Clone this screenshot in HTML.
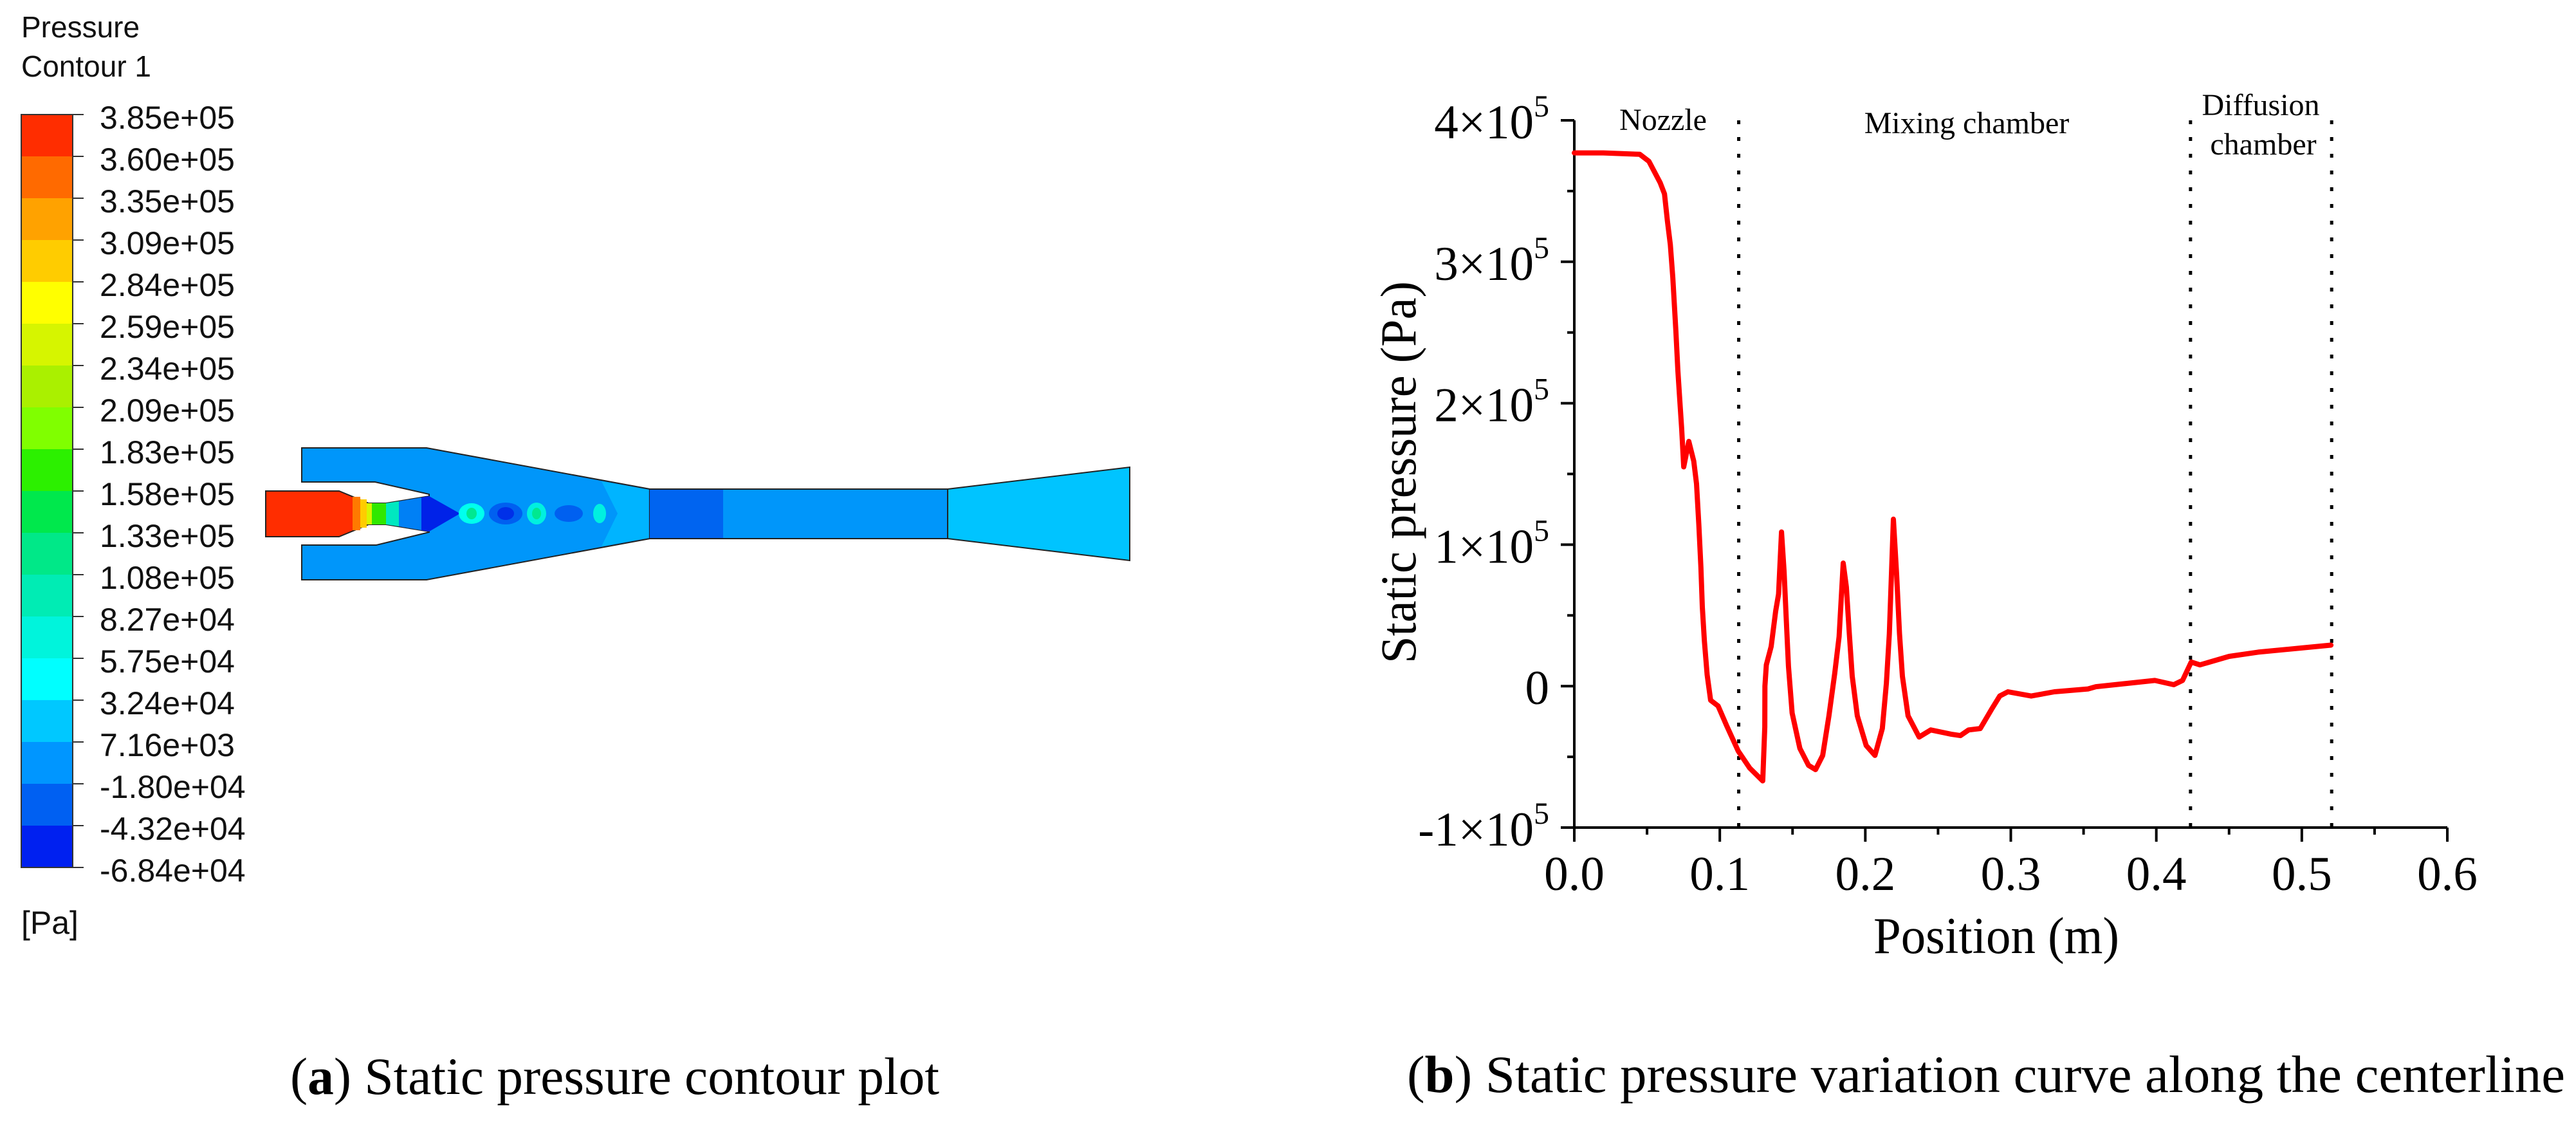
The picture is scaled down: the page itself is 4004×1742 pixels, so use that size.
<!DOCTYPE html>
<html><head><meta charset="utf-8"><style>
html,body{margin:0;padding:0;background:#fff;}
svg{display:block;}
.ar{font-family:"Liberation Sans",Arial,sans-serif;fill:#111;}
.tm{font-family:"Liberation Serif","Times New Roman",serif;fill:#000;}
</style></head><body>
<svg id="root" width="4004" height="1742" viewBox="0 0 4004 1742" xmlns="http://www.w3.org/2000/svg">
<rect width="4004" height="1742" fill="#fff"/>
<g>
<text class="ar" x="33" y="58" font-size="46">Pressure</text>
<text class="ar" x="33" y="119" font-size="46">Contour 1</text>
<g id="cbar"></g>
<text class="ar" x="33" y="1451" font-size="50">[Pa]</text>
<g stroke="#222" stroke-width="2">
<polygon fill="#0096fa" points="469,696 663,696 1010,760 1010,837 663,901 469,901 469,847 585,847 667,827 667,768 583,749 469,749"/>
<rect x="1010" y="760" width="463" height="77" fill="#0096fa"/>
<rect x="1010" y="761" width="114" height="75" fill="#0064f0" stroke="none"/>
<polygon fill="#00c4ff" points="1473,760 1756,726 1756,871 1473,837"/>
<polygon fill="#00b4ff" stroke="none" points="935,748 1008,761 1008,836 935,849 960,798"/>
<polygon fill="#ff2d00" points="413,763 527,763 573,782 600,782 667,771 667,826 600,815 573,815 527,834 413,834"/>
</g>
<g stroke="none">
<rect x="548" y="772" width="12" height="52" fill="#ff7a00"/>
<rect x="560" y="776" width="10" height="44" fill="#ffcc00"/>
<rect x="570" y="782" width="8" height="33" fill="#d8f500"/>
<rect x="578" y="782" width="22" height="33" fill="#30e800"/>
<polygon points="600,782 620,779 620,818 600,815" fill="#00e8c0"/>
<polygon points="620,779 667,771 667,826 620,818" fill="#0080f5"/>
<polygon points="655,773 667,771 715,798 667,826 655,824" fill="#0022e8"/>
<ellipse cx="733" cy="798" rx="20" ry="16" fill="#00ffee"/>
<ellipse cx="733" cy="798" rx="8" ry="9" fill="#00e890"/>
<ellipse cx="786" cy="798" rx="26" ry="17" fill="#0060f0"/>
<ellipse cx="786" cy="798" rx="13" ry="10" fill="#0030e8"/>
<ellipse cx="834" cy="798" rx="15" ry="17" fill="#00f0e0"/>
<ellipse cx="834" cy="798" rx="7" ry="9" fill="#00e890"/>
<ellipse cx="884" cy="798" rx="22" ry="13" fill="#0060f0"/>
<ellipse cx="932" cy="798" rx="10" ry="15" fill="#00f0e0"/>
</g>
<text class="tm" x="451" y="1700" font-size="82" textLength="1009" lengthAdjust="spacingAndGlyphs">(<tspan font-weight="bold">a</tspan>) Static pressure contour plot</text>
</g>

<g>
<g id="plot"></g>
<text class="tm" x="2200" y="734" font-size="78" text-anchor="middle" transform="rotate(-90 2200 734)" textLength="594" lengthAdjust="spacingAndGlyphs">Static pressure (Pa)</text>
<text class="tm" x="3103" y="1481" font-size="80" text-anchor="middle" textLength="382" lengthAdjust="spacingAndGlyphs">Position (m)</text>
<text class="tm" x="2585" y="202" font-size="48" text-anchor="middle">Nozzle</text>
<text class="tm" x="3057" y="207" font-size="48" text-anchor="middle">Mixing chamber</text>
<text class="tm" x="3514" y="179" font-size="48" text-anchor="middle">Diffusion</text>
<text class="tm" x="3518" y="240" font-size="48" text-anchor="middle">chamber</text>
<text class="tm" x="2187" y="1697" font-size="82" textLength="1800" lengthAdjust="spacingAndGlyphs">(<tspan font-weight="bold">b</tspan>) Static pressure variation curve along the centerline</text>
</g>
</svg>
<script>
const cbarLabels=["3.85e+05","3.60e+05","3.35e+05","3.09e+05","2.84e+05","2.59e+05","2.34e+05","2.09e+05","1.83e+05","1.58e+05","1.33e+05","1.08e+05","8.27e+04","5.75e+04","3.24e+04","7.16e+03","-1.80e+04","-4.32e+04","-6.84e+04"];
const cbarColors=["#ff2d00","#ff6a00","#ffa200","#ffcc00","#ffff00","#d6f500","#aaf000","#80ff00","#2cf000","#00e84c","#00e888","#00ecb4","#00f4dc","#00ffff","#00c8ff","#0096ff","#0060f2","#0020f0"];
const xPos=[0,0.02,0.045,0.0513,0.059,0.062,0.064,0.066,0.0677,0.0698,0.0712,0.0725,0.0738,0.0752,0.0787,0.0821,0.084,0.0856,0.087,0.088,0.0894,0.0913,0.0937,0.0988,0.1047,0.1127,0.1206,0.1295,0.1309,0.131,0.132,0.1353,0.1384,0.1404,0.1424,0.1442,0.1456,0.1472,0.1497,0.155,0.161,0.1658,0.1707,0.175,0.179,0.182,0.1848,0.187,0.189,0.191,0.1945,0.2006,0.2066,0.2117,0.2145,0.2165,0.2193,0.2215,0.2235,0.2255,0.2294,0.237,0.245,0.259,0.2654,0.271,0.279,0.287,0.2924,0.298,0.314,0.33,0.353,0.3585,0.399,0.412,0.418,0.424,0.43,0.45,0.47,0.5,0.52];
const pressure=[3.77,3.77,3.76,3.71,3.56,3.48,3.29,3.12,2.89,2.51,2.23,2.02,1.82,1.55,1.73,1.59,1.43,1.14,0.84,0.56,0.32,0.08,-0.10,-0.14,-0.28,-0.46,-0.58,-0.67,-0.29,0.0,0.15,0.28,0.53,0.65,1.09,0.81,0.49,0.14,-0.19,-0.44,-0.56,-0.59,-0.49,-0.21,0.09,0.35,0.87,0.70,0.37,0.07,-0.21,-0.42,-0.49,-0.30,0.02,0.37,1.18,0.79,0.37,0.07,-0.21,-0.36,-0.31,-0.34,-0.35,-0.31,-0.30,-0.16,-0.07,-0.04,-0.07,-0.04,-0.02,-0.004,0.04,0.01,0.04,0.17,0.15,0.21,0.24,0.27,0.29];
const xTicks=[0,0.1,0.2,0.3,0.4,0.5,0.6];
const xTickLabels=["0.0","0.1","0.2","0.3","0.4","0.5","0.6"];
const yTicks=[4,3,2,1,0,-1];
const yTickLabels=["4×10","3×10","2×10","1×10","0","-1×10"];
const regionBounds=[0.113,0.4235,0.5205];

const NS="http://www.w3.org/2000/svg";
function mk(tag,attrs,parent){const e=document.createElementNS(NS,tag);for(const k in attrs)e.setAttribute(k,attrs[k]);parent.appendChild(e);return e;}
const cb=document.getElementById('cbar');
const cbTop=178,cbH=65,cbX=33,cbW=80;
cbarColors.forEach((c,i)=>{
  const r=mk('rect',{x:cbX,y:cbTop+i*cbH,width:cbW,height:cbH+0.5,fill:c},cb);
  
  
});
mk('rect',{x:cbX,y:cbTop,width:cbW,height:cbH*cbarColors.length,fill:'none',stroke:'#333','stroke-width':2},cb);
cbarLabels.forEach((t,i)=>{
  const y=cbTop+i*cbH;
  mk('line',{x1:cbX+cbW,x2:cbX+cbW+17,y1:y,y2:y,stroke:'#333','stroke-width':2},cb);
  const tx=mk('text',{x:155,y:y+22,'font-size':50,class:'ar'},cb);
  tx.textContent=t;
  
  
});
const X0=2447,X1=3804,Y0=1286,Ytop=187;
const xs=v=>X0+(v/0.6)*(X1-X0);
const ys=v=>Y0-(v+1)/5*(Y0-Ytop);
const g=document.getElementById('plot');
regionBounds.forEach(b=>{
  const l=mk('line',{x1:xs(b),x2:xs(b),y1:Ytop,y2:Y0,stroke:'#000','stroke-width':5,'stroke-dasharray':'6 20'},g);
  
  
});
const ax=mk('path',{d:`M${X0},${Ytop}V${Y0}H${X1}`,fill:'none',stroke:'#000','stroke-width':4},g);


xTicks.forEach((v,i)=>{
  mk('line',{x1:xs(v),x2:xs(v),y1:Y0,y2:Y0+22,stroke:'#000','stroke-width':4},g);
  if(i<xTicks.length-1){const m=xs(v+0.05);mk('line',{x1:m,x2:m,y1:Y0,y2:Y0+11,stroke:'#000','stroke-width':4},g);}
  const t=mk('text',{x:xs(v),y:1383,'font-size':75,'text-anchor':'middle',class:'tm'},g);
  t.textContent=xTickLabels[i];
  
  
});
yTicks.forEach((v,i)=>{
  const y=ys(v);
  mk('line',{x1:X0-21,x2:X0,y1:y,y2:y,stroke:'#000','stroke-width':4},g);
  if(v>-1){const m=ys(v-0.5);mk('line',{x1:X0-11,x2:X0,y1:m,y2:m,stroke:'#000','stroke-width':4},g);}
  const t=mk('text',{x:2408,y:y+28,'font-size':75,'text-anchor':'end',class:'tm'},g);
  t.textContent=yTickLabels[i];
  if(v!==0){const s=mk('tspan',{dy:-34,'font-size':48},t);s.textContent='5';}
  
  
});
let d='';
xPos.forEach((x,i)=>{d+=(i?'L':'M')+xs(x).toFixed(1)+','+ys(pressure[i]).toFixed(1);});
const c=mk('path',{d:d,fill:'none',stroke:'#ff0000','stroke-width':8,'stroke-linejoin':'round','stroke-linecap':'round'},g);


</script>
</body></html>
